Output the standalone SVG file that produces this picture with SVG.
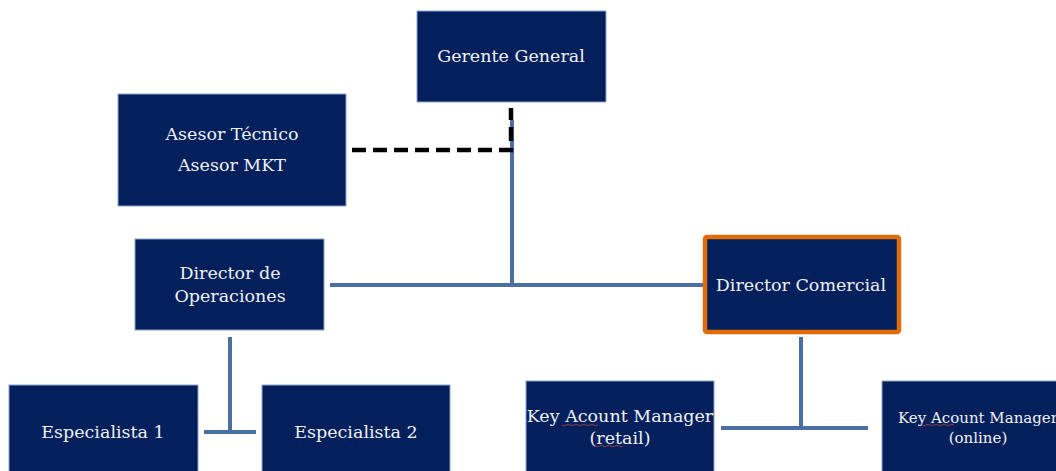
<svg xmlns="http://www.w3.org/2000/svg" width="1056" height="471" viewBox="0 0 1056 471">
<style>
.box{fill:#03205c;stroke:#8ea3c7;stroke-width:1}
.t{font-family:"DejaVu Serif","Liberation Serif",serif;font-size:17.5px;fill:#eef1f7;text-anchor:middle}
.ts{font-size:15px}
.c{stroke:#4a6fa5;stroke-width:4;fill:none}
.d{stroke:#000;stroke-width:4.5;fill:none;stroke-dasharray:14,7}
.sq{stroke:#b04040;stroke-width:0.8;fill:none}
</style>
<rect width="1056" height="471" fill="#fff"/>
<g id="connectors">
<line class="c" x1="512" y1="120" x2="512" y2="287"/>
<line class="c" x1="330" y1="285" x2="703" y2="285"/>
<line class="c" x1="230" y1="337" x2="230" y2="432"/>
<line class="c" x1="204" y1="432" x2="256" y2="432"/>
<line class="c" x1="801" y1="337" x2="801" y2="430"/>
<line class="c" x1="721" y1="428" x2="868" y2="428"/>
<path class="d" d="M352 150 H511 V108"/>
</g>
<g id="gerente">
<rect class="box" x="417" y="11" width="189" height="91"/>
<text class="t" x="511" y="62">Gerente General</text>
</g>
<g id="asesor">
<rect class="box" x="118" y="94" width="228" height="112"/>
<text class="t" x="232" y="140">Asesor Técnico</text>
<text class="t" x="232" y="171">Asesor MKT</text>
</g>
<g id="dir-operaciones">
<rect class="box" x="135" y="239" width="189" height="91"/>
<text class="t" x="230" y="279">Director de</text>
<text class="t" x="230" y="302">Operaciones</text>
</g>
<g id="dir-comercial">
<rect x="705" y="237" width="194" height="95" fill="#03205c" stroke="#e36c0a" stroke-width="4.5" rx="2"/>
<text class="t" x="801" y="291">Director Comercial</text>
</g>
<g id="especialista1">
<rect class="box" x="9" y="385" width="189" height="90"/>
<text class="t" x="103" y="438">Especialista 1</text>
</g>
<g id="especialista2">
<rect class="box" x="262" y="385" width="188" height="90"/>
<text class="t" x="356" y="438">Especialista 2</text>
</g>
<g id="kam-retail">
<rect class="box" x="526" y="381" width="188" height="94"/>
<text class="t" x="620" y="422">Key Acount Manager</text>
<text class="t" x="620" y="444">(retail)</text>
<path class="sq" d="M562 425 q2 1.5 4 0 t4 0 t4 0 t4 0 t4 0 t4 0 t4 0 t4 0 t4 0"/>
<path class="sq" d="M595 446 q2 1.5 4 0 t4 0 t4 0 t4 0 t4 0 t4 0 t4 0"/>
</g>
<g id="kam-online">
<rect class="box" x="882" y="381" width="180" height="94"/>
<text class="t ts" x="978" y="423">Key Acount Manager</text>
<text class="t ts" x="978" y="443">(online)</text>
<path class="sq" d="M922 425 q2 1.5 4 0 t4 0 t4 0 t4 0 t4 0 t4 0 t4 0 t4 0"/>
</g>
</svg>
